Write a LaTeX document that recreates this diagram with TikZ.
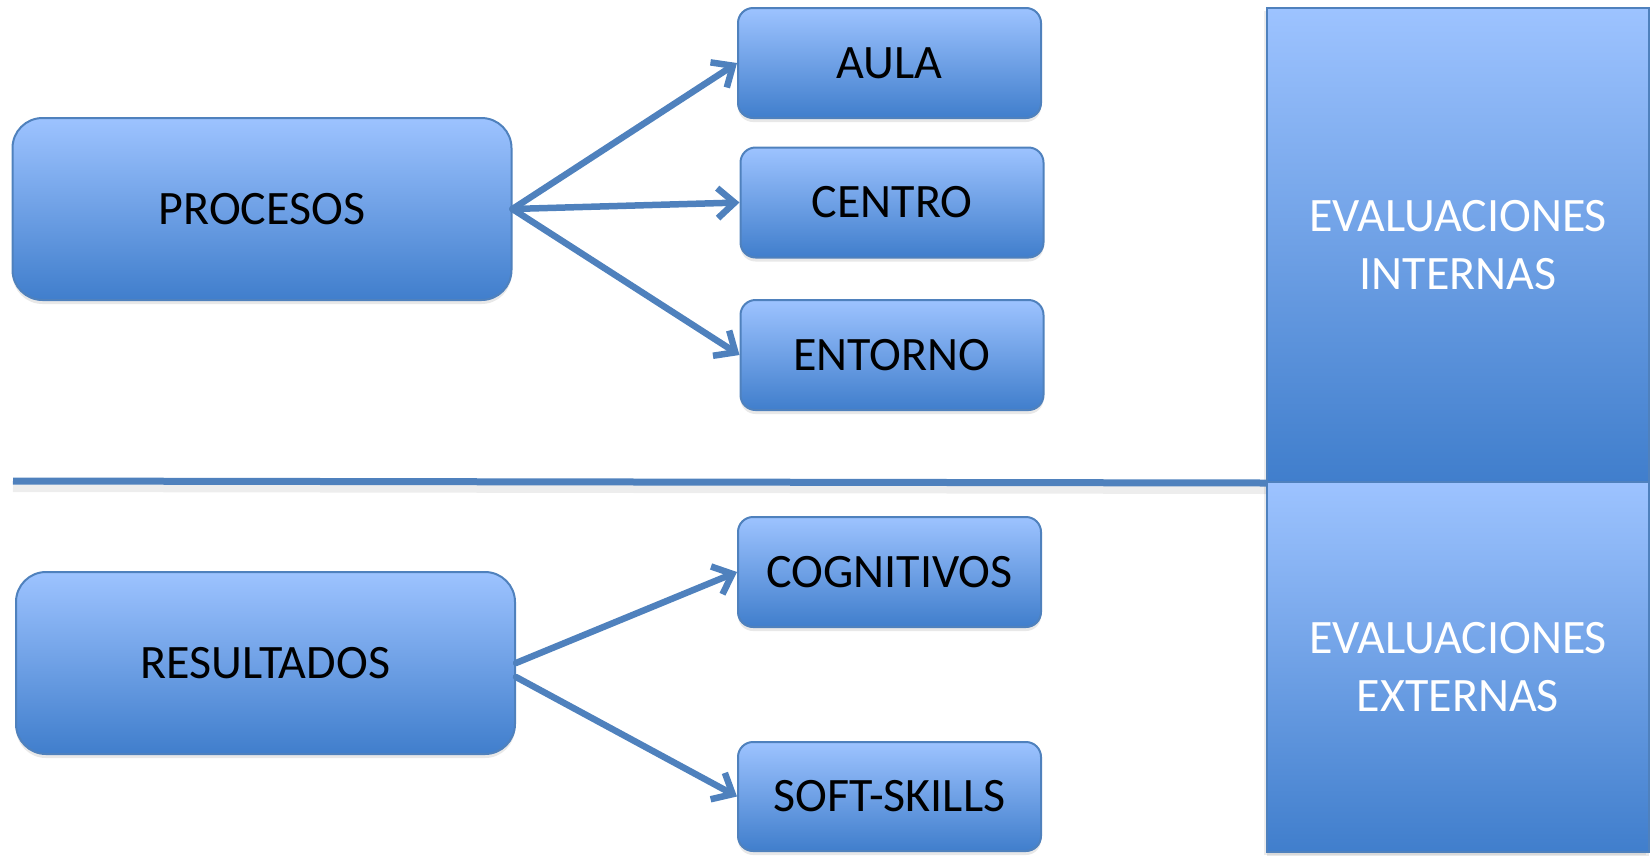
\documentclass[tikz,border=0pt]{standalone}
\usepackage{fontspec}
\setmainfont{Carlito}
\usetikzlibrary{arrows.meta,shadows,calc}
\definecolor{boxtop}{RGB}{157,195,255}
\definecolor{boxbot}{RGB}{64,126,204}
\definecolor{edgeblue}{RGB}{79,129,189}
\begin{document}
\begin{tikzpicture}[x=1pt,y=-1pt,
  gbox/.style={draw=edgeblue, line width=2pt, top color=boxtop, bottom color=boxbot,
    align=center, inner sep=0pt, font=\fontsize{48}{58}\selectfont,
    drop shadow={opacity=0.18, shadow xshift=0pt, shadow yshift=-4pt}},
  bigbox/.style={gbox, minimum width=499pt, minimum height=182pt, rounded corners=30pt},
  smallbox/.style={gbox, minimum width=303pt, minimum height=110pt, rounded corners=15pt},
  evalbox/.style={gbox, minimum width=382pt, text=white,
    drop shadow={opacity=0.15, shadow xshift=-3pt, shadow yshift=-3pt}},
  conn/.style={draw=edgeblue, line width=6.5pt, line cap=round,
    -{Straight Barb[length=17pt,width=30pt,line width=6.5pt]}},
  sepline/.style={draw=edgeblue, line width=7pt},
  sepshadow/.style={draw=black, opacity=0.07, line width=8pt}
]
\useasboundingbox (0,0) rectangle (1652,855);

% horizontal separator
\coordinate (hl) at (13,481);
\coordinate (hls) at (13,488);

\node[evalbox, minimum height=474pt] (evi) at (1458,245) {EVALUACIONES\\INTERNAS};
\node[evalbox, minimum height=370pt] (eve) at (1458,667) {EVALUACIONES\\EXTERNAS};
\draw[sepshadow] (hls) -- ($(evi.south west)+(0,7)$);
\draw[sepline] (hl) -- (evi.south west);

\node[bigbox] (proc) at (262,209) {PROCESOS};
\node[bigbox] (res) at (265.5,663) {RESULTADOS};

\node[smallbox] (aula) at (889.5,63) {AULA};
\node[smallbox] (centro) at (892,202.5) {CENTRO};
\node[smallbox] (entorno) at (892,355) {ENTORNO};
\node[smallbox] (cog) at (889.5,572) {COGNITIVOS};
\node[smallbox, minimum height=109pt] (soft) at (889.5,796.5) {SOFT-SKILLS};

\draw[conn] (proc.east) -- (aula.west);
\draw[conn] (proc.east) -- (centro.west);
\draw[conn] (proc.east) -- (entorno.west);
\draw[conn] (res.east) -- (cog.west);
\draw[conn] ($(res.east)+(0,14)$) -- (soft.west);
\end{tikzpicture}
\end{document}
